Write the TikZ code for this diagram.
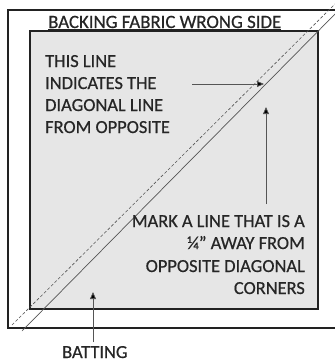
\documentclass[tikz,border=0pt]{standalone}
\usepackage{fontspec}
\setmainfont{Carlito}[FakeBold=0.6]
\usetikzlibrary{arrows.meta}
\definecolor{panel}{HTML}{E6E6E6}
\definecolor{frame}{HTML}{222222}
\definecolor{guide}{HTML}{555555}
\tikzset{
  lbl/.style={inner sep=0pt, font=\fontsize{18.4}{22}\selectfont, text=black!85},
  pointer/.style={draw=guide, line width=0.8pt, arrows={-{Triangle[length=7pt,width=6pt,fill=black]}}},
  outerbox/.style={draw=frame, line width=1.3pt},
  innerbox/.style={draw=frame, line width=1.4pt, fill=panel},
  markline/.style={draw=guide, line width=0.7pt},
  dashline/.style={draw=guide, line width=0.6pt, dash pattern=on 3pt off 2pt},
}
\begin{document}
\begin{tikzpicture}[x=1pt,y=-1pt]
\useasboundingbox (0,0) rectangle (335,362);
% outer batting rectangle (right edge beyond the picture)
\draw[outerbox] (345,10) -- (8,10) -- (8,328) -- (345,328);
% inner backing rectangle
\draw[innerbox] (30,31) rectangle (318,309);
% diagonal lines
\coordinate (s1) at (22,331);
\coordinate (s2) at (340,9);
\coordinate (d1) at (12,325);
\coordinate (d2) at (340,-1);
\draw[markline] (s1) -- (s2);
\draw[dashline] (d1) -- (d2);
% title
\node[lbl, anchor=base west, font=\fontsize{18.8}{22}\selectfont] (title) at (48,28) {BACKING FABRIC WRONG SIDE};
\draw[line width=1.2pt, frame] ([yshift=-1.6pt]title.base west) -- ([yshift=-1.6pt]title.base east);
% left text block
\node[lbl, anchor=base west] (l1) at (45,67) {THIS LINE};
\node[lbl, anchor=base west] (l2) at (45,89) {INDICATES THE};
\node[lbl, anchor=base west] (l3) at (45,111) {DIAGONAL LINE};
\node[lbl, anchor=base west] (l4) at (45,133) {FROM OPPOSITE};
% right text block
\node[lbl, anchor=base east] (r1) at (305,227) {MARK A LINE THAT IS A};
\node[lbl, anchor=base east] (r2) at (305,249) {¼” AWAY FROM};
\node[lbl, anchor=base east] (r3) at (305,272) {OPPOSITE DIAGONAL};
\node[lbl, anchor=base east] (r4) at (305,294) {CORNERS};
% batting label
\node[lbl, anchor=base west] (bat) at (62,358) {BATTING};
% pointers
\coordinate (a1s) at (192,84);
\coordinate (a1e) at (264,84);
\coordinate (a2s) at (266,204);
\coordinate (a2e) at (266,107);
\coordinate (a3s) at (93,342);
\coordinate (a3e) at (93,292);
\draw[pointer] (a1s) -- (a1e);
\draw[pointer] (a2s) -- (a2e);
\draw[pointer] (a3s) -- (a3e);
\end{tikzpicture}
\end{document}
